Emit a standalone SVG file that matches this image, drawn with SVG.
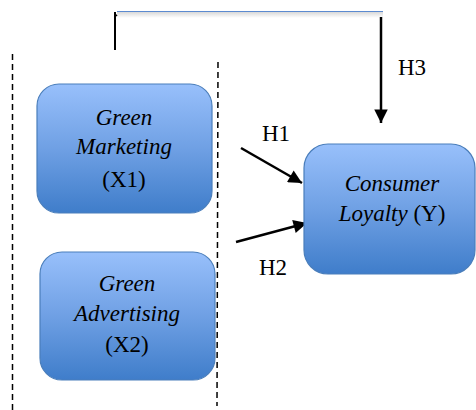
<svg xmlns="http://www.w3.org/2000/svg" width="476" height="410" viewBox="0 0 476 410">
<defs>
<linearGradient id="g" x1="0" y1="0" x2="0" y2="1">
<stop offset="0" stop-color="#98c0fb"/>
<stop offset="0.5" stop-color="#6fa0e4"/>
<stop offset="1" stop-color="#3f7dca"/>
</linearGradient>
<linearGradient id="sh" x1="0" y1="0" x2="0" y2="1">
<stop offset="0" stop-color="#d8d8d8"/>
<stop offset="1" stop-color="#ffffff"/>
</linearGradient>
<marker id="ah" viewBox="0 0 10 10" refX="10" refY="5" markerWidth="6.2" markerHeight="5.4" orient="auto" markerUnits="strokeWidth">
<path d="M0,0 L10,5 L0,10 z" fill="#000"/>
</marker>
</defs>
<style>
.box{fill:url(#g);stroke:#4a7ebb;stroke-width:1.2}
.t{font-family:"Liberation Serif",serif;font-size:23px;fill:#000;text-anchor:middle}
.i{font-style:italic}
.lbl{font-family:"Liberation Serif",serif;font-size:23px;fill:#000}
.dash{stroke:#000;stroke-width:1.5;stroke-dasharray:6,4;fill:none}
.arr{stroke:#000;stroke-width:2.5;fill:none;marker-end:url(#ah)}
</style>
<rect width="476" height="410" fill="#fff"/>
<g id="frame">
<line class="dash" x1="12.5" y1="54" x2="12.5" y2="410"/>
<line class="dash" x1="218" y1="62" x2="217" y2="406"/>
</g>
<g id="connectors">
<rect x="117" y="12" width="266" height="6" fill="url(#sh)"/>
<line x1="117" y1="11.5" x2="383" y2="11.5" stroke="#5b8ad0" stroke-width="1"/>
<line x1="115" y1="12" x2="115" y2="50" stroke="#000" stroke-width="2"/>
<line x1="115" y1="14" x2="117" y2="16" stroke="#000" stroke-width="1.5"/>
<line class="arr" x1="381" y1="17" x2="381" y2="123"/>
<line class="arr" x1="241" y1="148" x2="302" y2="183"/>
<line class="arr" x1="236" y1="242" x2="307" y2="223"/>
<text class="lbl" x="398" y="75">H3</text>
<text class="lbl" x="262" y="141">H1</text>
<text class="lbl" x="259" y="275">H2</text>
</g>
<g id="x1">
<rect class="box" x="37" y="84" width="175" height="129" rx="22"/>
<text class="t i" x="124" y="125">Green</text>
<text class="t i" x="124" y="154">Marketing</text>
<text class="t" x="124" y="187">(X1)</text>
</g>
<g id="x2">
<rect class="box" x="40" y="252" width="175" height="128" rx="22"/>
<text class="t i" x="127" y="291">Green</text>
<text class="t i" x="127" y="321">Advertising</text>
<text class="t" x="127" y="352">(X2)</text>
</g>
<g id="y">
<rect class="box" x="304" y="144" width="171" height="130" rx="24"/>
<text class="t i" x="392" y="191">Consumer</text>
<text class="t" x="392" y="221"><tspan class="i">Loyalty</tspan> (Y)</text>
</g>
</svg>
